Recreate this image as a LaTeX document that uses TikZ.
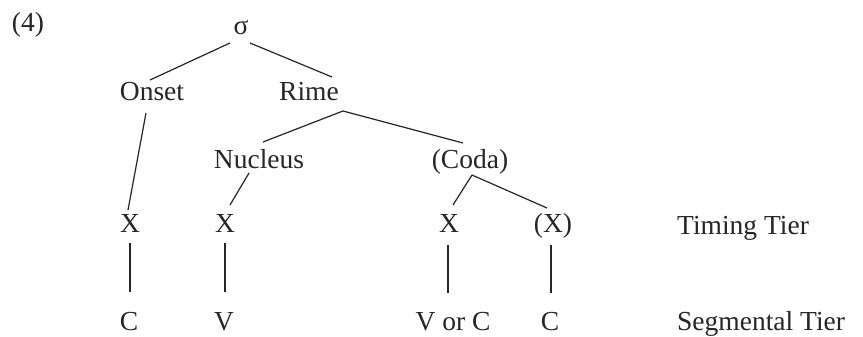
\documentclass[tikz,border=0pt]{standalone}
\usepackage{fontspec}
\setmainfont{Liberation Serif}
\begin{document}
\begin{tikzpicture}[x=1pt,y=-1pt,
  lab/.style={inner sep=0pt,anchor=base,text=black!85,font=\fontsize{27.5}{30}\selectfont},
  labw/.style={lab,anchor=base west},
  edge/.style={draw=black!85,line width=1.2pt}]
\useasboundingbox[fill=white] (0,0) rectangle (863,337);
% labels
\node[lab] (ex) at (28,32) {(4)};
\node[lab] (sigma) at (241,35) {σ};
\node[lab] (onset) at (152,100) {Onset};
\node[lab] (rime) at (309,101) {Rime};
\node[lab] (nucleus) at (259,168) {Nucleus};
\node[lab] (coda) at (470,168) {(Coda)};
\node[lab] (x1) at (130,232) {X};
\node[lab] (x2) at (225,232) {X};
\node[lab] (x3) at (449,232) {X};
\node[lab] (x4) at (553,232) {(X)};
\node[labw] (tt) at (677,234) {Timing Tier};
\node[lab] (s1) at (129,330) {C};
\node[lab] (s2) at (224,330) {V};
\node[lab] (s3) at (453,330) {V or C};
\node[lab] (s4) at (550,330) {C};
\node[labw] (st) at (677,330) {Segmental Tier};
% connectors
\draw[edge] ([shift={(-11,8)}]sigma.base) -- ([shift={(-2,-20)}]onset.base);
\draw[edge] ([shift={(9,8)}]sigma.base) -- ([shift={(23,-24)}]rime.base);
\draw[edge] ([shift={(-6,13)}]onset.base) -- ([shift={(-2,-22)}]x1.base);
\draw[edge] ([shift={(34,10)}]rime.base) -- ([shift={(4,-26)}]nucleus.base);
\draw[edge] ([shift={(34,10)}]rime.base) -- ([shift={(-7,-25)}]coda.base);
\draw[edge] ([shift={(-10,5)}]nucleus.base) -- ([shift={(5,-27)}]x2.base);
\draw[edge] ([shift={(2,7)}]coda.base) -- ([shift={(4,-27)}]x3.base);
\draw[edge] ([shift={(2,7)}]coda.base) -- ([shift={(-6,-24)}]x4.base);
\draw[edge] ([shift={(0,11)}]x1.base) -- ([shift={(1,-38)}]s1.base);
\draw[edge] ([shift={(0,11)}]x2.base) -- ([shift={(1,-38)}]s2.base);
\draw[edge] ([shift={(-1,13)}]x3.base) -- ([shift={(-5,-37)}]s3.base);
\draw[edge] ([shift={(-2,13)}]x4.base) -- ([shift={(1,-37)}]s4.base);
\end{tikzpicture}
\end{document}
